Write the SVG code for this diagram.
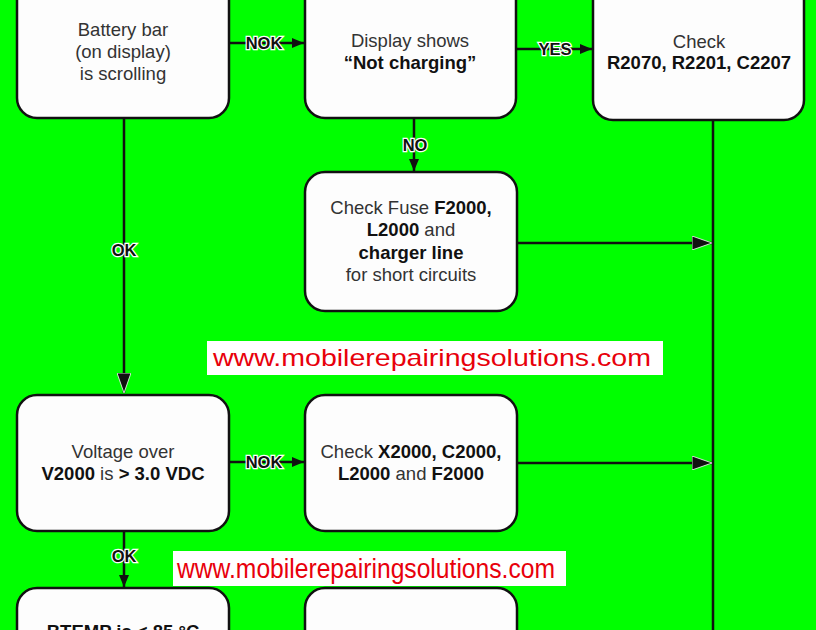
<svg xmlns="http://www.w3.org/2000/svg" width="816" height="630" viewBox="0 0 816 630">
<style>
.box{fill:#fdfdfd;stroke:#111;stroke-width:2.5}
.t{font-family:"Liberation Sans",Arial,sans-serif;font-size:18.5px;fill:#333;text-anchor:middle}
.b{font-weight:bold;fill:#111}
.ln{stroke:#111;stroke-width:2.5;fill:none}
.lbl{font-family:"Liberation Sans",Arial,sans-serif;font-size:16.5px;font-weight:bold;fill:#111;stroke:#fff;stroke-width:2.5;paint-order:stroke;text-anchor:middle}
.wm{font-family:"Liberation Sans",Arial,sans-serif;fill:#e8000b}
</style>
<defs>
<marker id="ah" viewBox="0 0 20 14" refX="20" refY="7" markerWidth="20" markerHeight="14" markerUnits="userSpaceOnUse" orient="auto">
<path d="M0,0 L20,7 L0,14 Z" fill="#111" stroke="#fff" stroke-width="0.8"/>
</marker>
<marker id="ahs" viewBox="0 0 12 10" refX="12" refY="5" markerWidth="12" markerHeight="10" markerUnits="userSpaceOnUse" orient="auto">
<path d="M0,0 L12,5 L0,10 Z" fill="#111"/>
</marker>
</defs>
<rect width="816" height="630" fill="#00ff00"/>

<g id="connectors">
<line class="ln" x1="229" y1="43" x2="304" y2="43" marker-end="url(#ahs)"/>
<text class="lbl" x="264" y="49">NOK</text>
<line class="ln" x1="517" y1="49" x2="592" y2="49" marker-end="url(#ahs)"/>
<text class="lbl" x="555" y="55">YES</text>
<line class="ln" x1="414" y1="118" x2="414" y2="171" marker-end="url(#ahs)"/>
<text class="lbl" x="415" y="151">NO</text>
<line class="ln" x1="517" y1="243" x2="712" y2="243" marker-end="url(#ah)"/>
<line class="ln" x1="713" y1="120" x2="713" y2="630"/>
<line class="ln" x1="124" y1="118" x2="124" y2="393" marker-end="url(#ah)"/>
<text class="lbl" x="124" y="256">OK</text>
<line class="ln" x1="229" y1="462" x2="304" y2="462" marker-end="url(#ahs)"/>
<text class="lbl" x="264" y="468">NOK</text>
<line class="ln" x1="517" y1="463" x2="712" y2="463" marker-end="url(#ah)"/>
<line class="ln" x1="124" y1="531" x2="124" y2="587" marker-end="url(#ahs)"/>
<text class="lbl" x="124" y="562">OK</text>
</g>

<g id="n1">
<rect class="box" x="17" y="-30" width="212" height="148" rx="20"/>
<text class="t" x="123" y="36">Battery bar</text>
<text class="t" x="123" y="58">(on display)</text>
<text class="t" x="123" y="80">is scrolling</text>
</g>
<g id="n2">
<rect class="box" x="305" y="-30" width="211" height="148" rx="20"/>
<text class="t" x="410" y="47">Display shows</text>
<text class="t b" x="410" y="69">“Not charging”</text>
</g>
<g id="n3">
<rect class="box" x="593" y="-30" width="211" height="150" rx="20"/>
<text class="t" x="699" y="48">Check</text>
<text class="t b" x="699" y="69">R2070, R2201, C2207</text>
</g>
<g id="n4">
<rect class="box" x="305" y="172" width="212" height="139" rx="20"/>
<text class="t" x="411" y="214">Check Fuse <tspan class="b">F2000,</tspan></text>
<text class="t" x="411" y="236"><tspan class="b">L2000</tspan> and</text>
<text class="t b" x="411" y="259">charger line</text>
<text class="t" x="411" y="281">for short circuits</text>
</g>
<g id="n5">
<rect class="box" x="17" y="395" width="212" height="136" rx="20"/>
<text class="t" x="123" y="458">Voltage over</text>
<text class="t" x="123" y="480"><tspan class="b">V2000</tspan> is <tspan class="b">&gt; 3.0 VDC</tspan></text>
</g>
<g id="n6">
<rect class="box" x="305" y="395" width="212" height="136" rx="20"/>
<text class="t" x="411" y="458">Check <tspan class="b">X2000, C2000,</tspan></text>
<text class="t" x="411" y="480"><tspan class="b">L2000</tspan> and <tspan class="b">F2000</tspan></text>
</g>
<g id="n7">
<rect class="box" x="17" y="588" width="212" height="100" rx="20"/>
<text class="t b" x="123" y="638">BTEMP is &lt; 85 °C</text>
</g>
<g id="n8">
<rect class="box" x="305" y="588" width="212" height="100" rx="20"/>
</g>

<g id="watermarks">
<rect x="207" y="341" width="456" height="34" fill="#fff"/>
<text class="wm" x="213" y="366" font-size="24" textLength="438" lengthAdjust="spacingAndGlyphs">www.mobilerepairingsolutions.com</text>
<rect x="173" y="551" width="393" height="35" fill="#fff"/>
<text class="wm" x="177" y="578" font-size="27" textLength="378" lengthAdjust="spacingAndGlyphs">www.mobilerepairingsolutions.com</text>
</g>
</svg>
